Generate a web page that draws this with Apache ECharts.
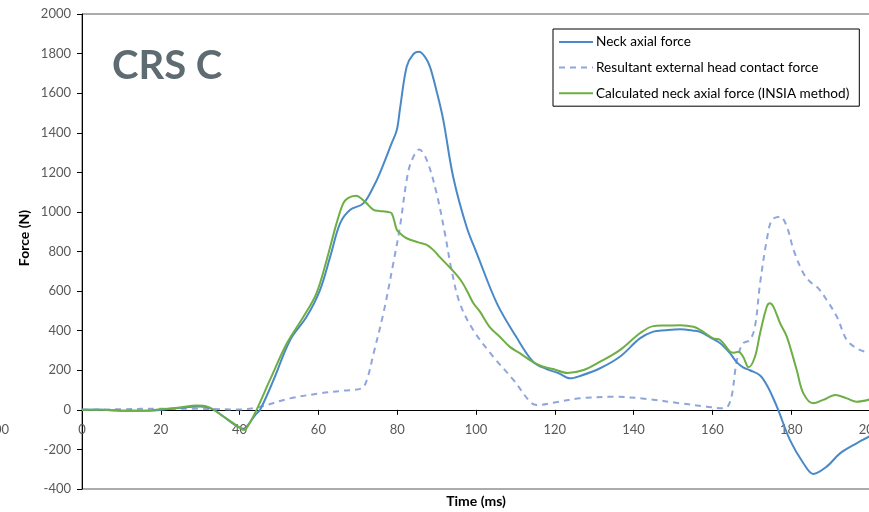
<!DOCTYPE html>
<html>
<head>
<meta charset="utf-8">
<script src="https://cdn.jsdelivr.net/npm/echarts@6/dist/echarts.min.js"></script>
<style>
  html, body { margin: 0; padding: 0; background: #fff; }
  #chart { width: 869px; height: 512px; }
</style>
</head>
<body>
<div id="chart"></div>
<script>
// Neck axial force (load cell), time in ms, force in N
const neckTime = [0, 5, 10, 15, 20, 25, 28, 30, 33, 36, 38, 40, 41, 42, 44, 45.2, 48.6, 52.8, 57, 60.4, 63, 65.5, 68, 71.4, 74, 75.6, 78.6, 79.9, 80.7, 82.4, 84, 85.5, 87, 88.3, 90, 91.7, 94.2, 97.6, 100.2, 105.3, 110.2, 114.5, 117.9, 121, 123.9, 126.4, 131.5, 136.5, 141.6, 145, 148, 151.8, 155.2, 157, 160, 162, 164.5, 166.2, 167.8, 169.5, 172.1, 173.8, 175.3, 176.7, 179.7, 183.1, 185.6, 189, 192.4, 196.6, 200];
const neckForce = [0, 0, -5, -5, 0, 10, 16, 17, 5, -35, -65, -90, -95, -80, -25, 0, 150, 352, 470, 605, 774, 942, 1010, 1043, 1128, 1196, 1347, 1414, 1520, 1734, 1795, 1809, 1785, 1734, 1610, 1464, 1178, 925, 791, 538, 369, 243, 206, 185, 159, 171, 210, 268, 361, 395, 402, 407, 400, 393, 360, 336, 285, 240, 215, 200, 174, 125, 65, 0, -153, -270, -324, -287, -220, -169, -133];

// Resultant external head contact force
const headTime = [0, 10, 20, 30, 40, 45.2, 52.8, 60.4, 66.3, 71, 72.3, 74, 76.5, 79, 80.7, 82.4, 83.5, 85.6, 87.5, 90, 92.1, 93.8, 95.9, 99.3, 104.4, 109.5, 113.7, 115.4, 119.6, 126.4, 134.9, 143.3, 151.8, 158.6, 162.8, 164, 165, 165.8, 166.6, 167.8, 169.5, 170.8, 172.1, 173.8, 175.1, 177.2, 178.9, 180.6, 183.1, 184.8, 186.9, 189, 191.6, 194.1, 196.6, 198.7, 200];
const headForce = [0, 3, 6, 5, 2, 16, 58, 83, 97, 109, 151, 285, 488, 740, 925, 1161, 1250, 1316, 1262, 1094, 892, 706, 538, 403, 268, 151, 41, 24, 36, 58, 66, 55, 33, 16, 8, 20, 80, 200, 280, 336, 353, 420, 639, 858, 959, 976, 925, 808, 690, 647, 614, 555, 470, 353, 311, 294, 290];

// Neck axial force calculated with the INSIA method
const insiaTime = [0, 5, 10, 15, 20, 25, 29, 32, 36, 40, 41, 42, 44.3, 47.7, 52, 56.2, 59.5, 62.1, 64.6, 66.3, 67.5, 69.5, 71.8, 74, 75.5, 77.3, 78.6, 79.9, 80.7, 82.4, 85.4, 87.5, 89.2, 90.9, 92.6, 94.5, 96.4, 98, 99.3, 101, 103.6, 106.1, 108.6, 111.2, 114.6, 117.1, 119.6, 123.2, 127.3, 131.5, 136.5, 141.6, 145, 148, 151.8, 155.2, 157, 160.2, 162, 164.5, 165.5, 166.6, 167.8, 169.2, 170.8, 172.1, 173.8, 174.6, 175.5, 177.2, 178.9, 181.4, 183.1, 185.6, 188.1, 191.2, 194.1, 196.6, 200];
const insiaForce = [0, 0, -5, -5, 3, 12, 22, 15, -35, -90, -102, -85, 0, 151, 336, 470, 589, 757, 942, 1043, 1070, 1082, 1052, 1010, 1005, 1001, 993, 909, 892, 867, 846, 833, 807, 770, 735, 695, 647, 590, 540, 496, 415, 368, 318, 285, 240, 218, 206, 186, 201, 243, 302, 387, 423, 426, 428, 420, 403, 361, 353, 294, 289, 294, 268, 215, 268, 387, 521, 538, 520, 437, 369, 201, 83, 33, 50, 75, 58, 41, 53];

const xTicks = { min: 0, max: 200, interval: 20 };
const yTicks = { min: -400, max: 2000, interval: 200 };

const pairs = (t, v) => t.map((x, i) => [x, v[i]]);

const chart = echarts.init(document.getElementById('chart'), null, { renderer: 'canvas' });
const labelStyle = { color: '#595959', fontFamily: 'Lato', fontSize: 13 };
const plainNumber = v => String(v);

// plot area: 0..200 ms spans 788 px (runs just past the right edge), -400..2000 N spans 475 px
const grid = { left: 82, top: 14, width: 788, height: 475 };
// the time axis sits on the zero-force line, 80 px above the bottom edge
const zeroOffset = -grid.height * (0 - yTicks.min) / (yTicks.max - yTicks.min);

chart.setOption({
  animation: false,
  backgroundColor: '#ffffff',
  grid: Object.assign({ show: true, borderColor: '#595959', borderWidth: 1, containLabel: false, outerBoundsMode: 'none' }, grid),
  xAxis: {
    type: 'value', position: 'bottom', offset: zeroOffset,
    min: xTicks.min, max: xTicks.max, interval: xTicks.interval,
    axisLine: { onZero: false, lineStyle: { color: '#000', width: 1 } },
    axisTick: { show: true, length: 5, lineStyle: { color: '#000' } },
    axisLabel: Object.assign({ margin: 13, showMaxLabel: true, showMinLabel: true, formatter: plainNumber }, labelStyle),
    splitLine: { show: false }
  },
  yAxis: {
    type: 'value',
    min: yTicks.min, max: yTicks.max, interval: yTicks.interval,
    axisLine: { show: true, onZero: false, lineStyle: { color: '#000', width: 1 } },
    axisTick: { show: true, length: 5, lineStyle: { color: '#000' } },
    axisLabel: Object.assign({ margin: 11, formatter: plainNumber }, labelStyle),
    splitLine: { show: false }
  },
  legend: {
    orient: 'vertical',
    left: 553, top: 29,
    padding: [6, 10, 6, 5],
    itemWidth: 34, itemHeight: 14, itemGap: 11.6,
    borderColor: '#000', borderWidth: 1,
    backgroundColor: '#fff',
    itemStyle: { opacity: 0 },
    textStyle: { color: '#000', fontFamily: 'Lato', fontSize: 13.6, padding: [0, 0, 0, -2] },
    data: ['Neck axial force', 'Resultant external head contact force', 'Calculated neck axial force (INSIA method)']
  },
  graphic: [
    {
      type: 'text', left: 112, top: 46,
      style: { text: 'CRS C', fill: '#5F6B73', font: 'bold 40px Lato' }
    },
    {
      type: 'text', x: 24, y: 238, rotation: Math.PI / 2,
      style: { text: 'Force (N)', fill: '#000', font: 'bold 14px Lato', align: 'center', verticalAlign: 'middle' }
    },
    {
      type: 'text', x: 476, y: 501,
      style: { text: 'Time (ms)', fill: '#000', font: 'bold 14px Lato', align: 'center', verticalAlign: 'middle' }
    },
    {
      type: 'text', x: 9, y: 430,
      style: { text: '200', fill: '#595959', font: '13px Lato', align: 'right', verticalAlign: 'middle' }
    }
  ],
  series: [
    {
      name: 'Neck axial force', type: 'line', data: pairs(neckTime, neckForce),
      symbol: 'none', smooth: 0.35, z: 3,
      lineStyle: { color: '#4A89C8', width: 2 }, itemStyle: { color: '#4A89C8' }
    },
    {
      name: 'Resultant external head contact force', type: 'line', data: pairs(headTime, headForce),
      symbol: 'none', smooth: 0.35, z: 2,
      lineStyle: { color: '#8FA6DC', width: 2, type: [6, 5] }, itemStyle: { color: '#8FA6DC' }
    },
    {
      name: 'Calculated neck axial force (INSIA method)', type: 'line', data: pairs(insiaTime, insiaForce),
      symbol: 'none', smooth: 0.35, z: 4,
      lineStyle: { color: '#6DAE45', width: 2 }, itemStyle: { color: '#6DAE45' }
    }
  ]
});
</script>
</body>
</html>
